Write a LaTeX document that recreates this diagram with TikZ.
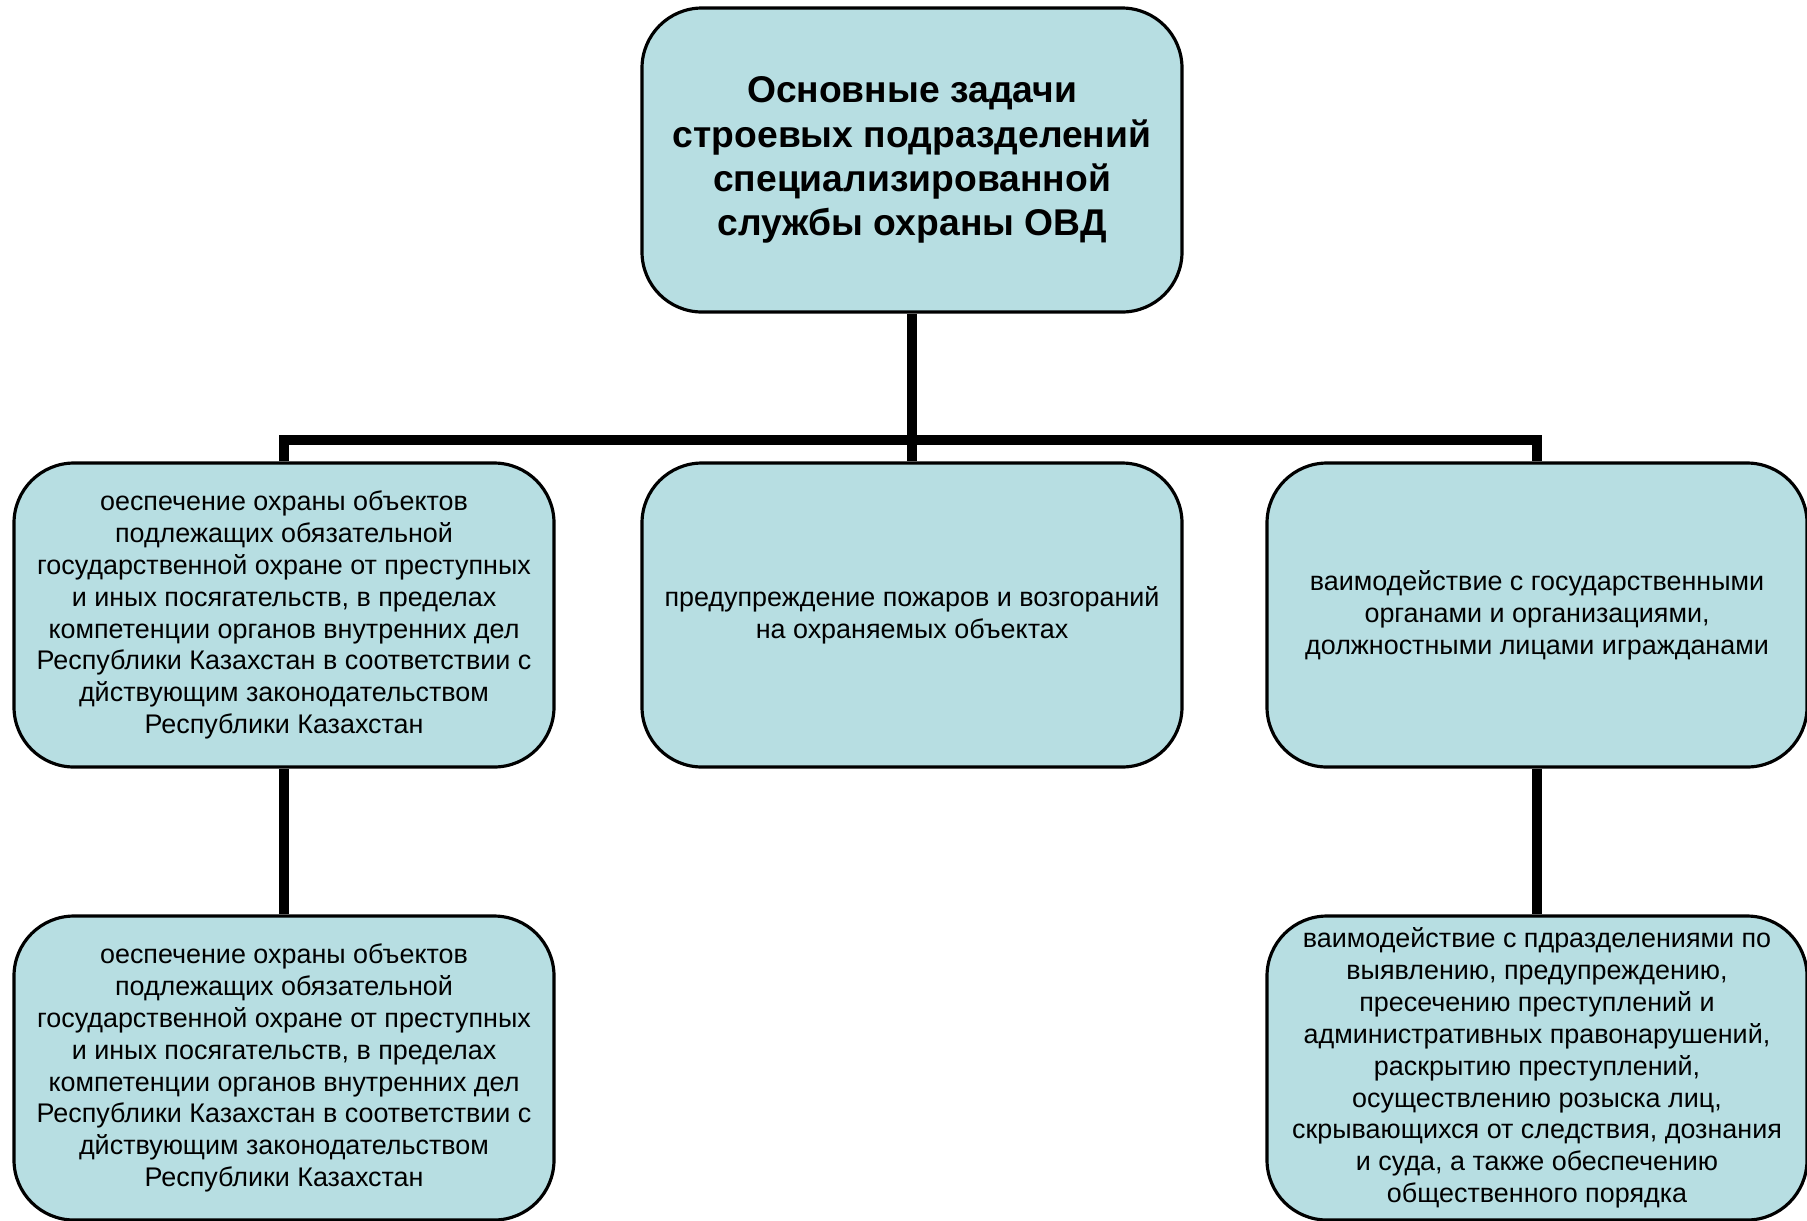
\documentclass[tikz,border=0pt]{standalone}
\usepackage{fontspec}
\setmainfont{Liberation Sans}
\definecolor{boxfill}{HTML}{B7DEE2}
\begin{document}
\begin{tikzpicture}[
    task/.style={rectangle, draw, line width=0.9pt, fill=boxfill, rounded corners=0.6cm,
      minimum width=5.40cm, minimum height=3.04cm, inner sep=0pt, align=center,
      font=\fontsize{7.66}{9.07}\selectfont},
    head/.style={task, font=\fontsize{10.6}{12.6}\selectfont\bfseries},
    conn/.style={line width=0.1cm, line join=miter}
]
    \useasboundingbox (0,0) rectangle (18.07,-12.2);

    % Kaesten
    \node[head] (top) at (9.12,-1.60) {Основные задачи\\строевых подразделений\\специализированной\\службы охраны ОВД};
    \node[task] (left) at (2.84,-6.15) {оеспечение охраны объектов\\подлежащих обязательной\\государственной охране от преступных\\и иных посягательств, в пределах\\компетенции органов внутренних дел\\Республики Казахстан в соответствии с\\дйствующим законодательством\\Республики Казахстан};
    \node[task] (mid) at (9.12,-6.15) {предупреждение пожаров и возгораний\\на охраняемых объектах};
    \node[task] (right) at (15.37,-6.15) {ваимодействие с государственными\\органами и организациями,\\должностными лицами игражданами};
    \node[task] (leftsub) at (2.84,-10.68) {оеспечение охраны объектов\\подлежащих обязательной\\государственной охране от преступных\\и иных посягательств, в пределах\\компетенции органов внутренних дел\\Республики Казахстан в соответствии с\\дйствующим законодательством\\Республики Казахстан};
    \node[task] (rightsub) at (15.37,-10.68) {ваимодействие с пдразделениями по\\выявлению, предупреждению,\\пресечению преступлений и\\административных правонарушений,\\раскрытию преступлений,\\осуществлению розыска лиц,\\скрывающихся от следствия, дознания\\и суда, а также обеспечению\\общественного порядка};

    % Verbindungen
    \coordinate (bar) at (9.12,-4.40);
    \draw[conn] (top) -- (mid);
    \draw[conn] (left) |- (bar) -| (right);
    \draw[conn] (left) -- (leftsub);
    \draw[conn] (right) -- (rightsub);
\end{tikzpicture}
\end{document}
